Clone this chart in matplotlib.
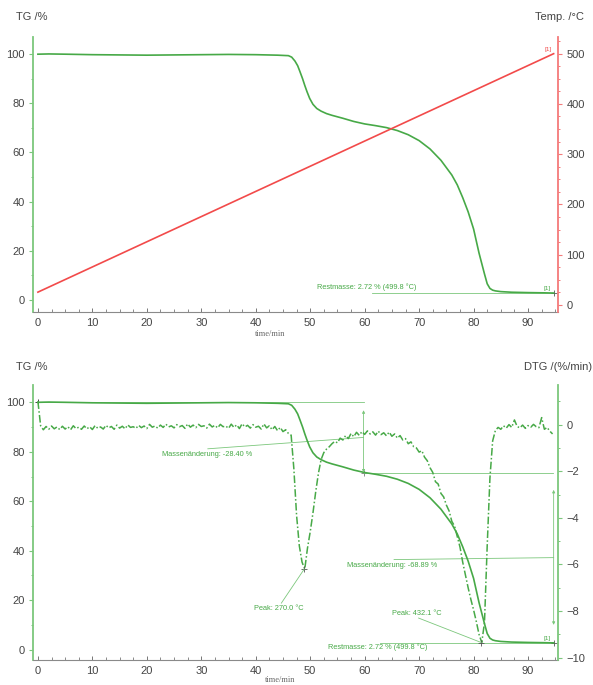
import numpy as np
import matplotlib
matplotlib.use("Agg")
import matplotlib.pyplot as plt
from matplotlib.ticker import MultipleLocator

plt.rcParams["font.family"] = ["Liberation Sans", "DejaVu Sans"]

# ── data ─────────────────────────────────────────────────────────────────────
tg_time = [0, 2, 5, 10, 15, 20, 25, 30, 35, 40, 44, 46, 46.6, 47.2, 47.7,
           48.1, 48.6, 49.0, 49.4, 49.9, 50.5, 51.2, 52, 53, 54, 56, 58, 60,
           62, 64, 66, 68, 70, 72, 74, 76, 77, 78, 79, 80, 81, 82, 82.5, 83,
           83.5, 84, 85, 87, 90, 93, 94.7]
tg_mass = [100.0, 100.1, 100.0, 99.8, 99.7, 99.6, 99.7, 99.8, 99.9, 99.8,
           99.6, 99.4, 98.8, 97.2, 95.3, 93.0, 90.0, 87.3, 84.8, 82.0, 79.6,
           77.9, 76.8, 75.8, 75.1, 73.9, 72.6, 71.6, 70.9, 70.1, 68.9, 67.2,
           64.8, 61.4, 56.8, 50.8, 46.8, 41.6, 35.8, 28.8, 19.0, 10.5, 6.5,
           4.6, 3.9, 3.6, 3.3, 3.05, 2.9, 2.8, 2.72]

temp_time = [0, 94.7]
temp_value = [25.5, 499.8]

dtg_time = np.arange(0, 95.0, 0.5)
dtg_value = [
    1.00, -0.05, -0.22, -0.08, -0.20, -0.06, -0.18, -0.10, -0.21, -0.07,
    -0.19, -0.09, -0.22, -0.05, -0.17, -0.11, -0.20, -0.06, -0.18, -0.09,
    -0.21, -0.04, -0.16, -0.10, -0.19, -0.03, -0.14, -0.08, -0.20, -0.02,
    -0.15, -0.07, -0.18, -0.01, -0.12, -0.09, -0.16, -0.03, -0.13, -0.06,
    -0.17, 0.01, -0.11, -0.06, -0.15, -0.02, -0.12, 0.02, -0.10, -0.05,
    -0.14, 0.00, -0.09, -0.04, -0.16, 0.03, -0.11, -0.02, -0.13, 0.01,
    -0.08, -0.05, -0.15, 0.02, -0.10, -0.03, -0.14, 0.01, -0.09, -0.06,
    -0.16, 0.02, -0.12, -0.01, -0.17, 0.04, -0.10, -0.03, -0.15, 0.00,
    -0.11, -0.07, -0.19, 0.03, -0.14, -0.05, -0.22, -0.08, -0.26, -0.12,
    -0.30, -0.22, -0.38, -0.45, -1.90, -3.90, -5.20, -5.90, -6.20, -5.30,
    -4.60, -3.80, -2.90, -2.10, -1.50, -1.20, -1.05, -0.95, -0.82, -0.72,
    -0.78, -0.58, -0.66, -0.47, -0.60, -0.38, -0.52, -0.33, -0.46, -0.30,
    -0.42, -0.27, -0.40, -0.31, -0.45, -0.28, -0.43, -0.35, -0.48, -0.32,
    -0.50, -0.40, -0.58, -0.47, -0.66, -0.60, -0.82, -0.74, -0.95, -1.00,
    -1.18, -1.12, -1.40, -1.55, -1.85, -2.05, -2.45, -2.55, -2.95, -3.10,
    -3.45, -3.70, -4.15, -4.35, -4.80, -5.25, -5.90, -6.45, -7.00, -7.50,
    -7.95, -8.45, -9.00, -9.35, -8.50, -5.20, -2.30, -0.70, -0.25, -0.12,
    -0.20, -0.05, -0.15, 0.00, -0.12, 0.20, -0.08, -0.14, -0.02, -0.16,
    -0.04, -0.11, 0.01, -0.09, -0.13, 0.30, -0.20, -0.12, -0.28, -0.40,
]

peak_time = [48.9, 81.4]
peak_dtg = [-6.2, -9.35]
step1_time, step1_from, step1_to = 59.8, 100.0, 71.6
residual_mass = 2.72

# ── styling ──────────────────────────────────────────────────────────────────
GREEN = "#47a947"
GREEN_L = "#7cc77c"
RED = "#f24a4a"
GREY = "#444444"
TICK_FS = 8
NOTE_FS = 5.3


def style_axis(ax, left_color):
    ax.set_xlim(-0.9, 95.5)
    ax.spines["top"].set_visible(False)
    ax.spines["left"].set_color(left_color)
    ax.spines["left"].set_linewidth(1.3)
    ax.spines["bottom"].set_color("#8a8a8a")
    ax.spines["right"].set_visible(False)
    ax.xaxis.set_major_locator(MultipleLocator(10))
    ax.xaxis.set_minor_locator(MultipleLocator(2.5))
    ax.tick_params(axis="x", direction="in", length=3, width=0.7,
                   color="#777777", labelsize=TICK_FS, labelcolor=GREY, pad=4)
    ax.tick_params(axis="x", which="minor", direction="in", length=2,
                   width=0.6, color="#777777")
    ax.tick_params(axis="y", direction="out", length=3, width=0.8,
                   color=left_color, labelsize=TICK_FS, labelcolor=GREY, pad=3)
    ax.tick_params(axis="y", which="minor", direction="out", length=1.5,
                   width=0.7, color=left_color)
    ax.set_facecolor("none")


def style_right(ax, color):
    for s in ["top", "left", "bottom"]:
        ax.spines[s].set_visible(False)
    ax.spines["right"].set_color(color)
    ax.spines["right"].set_linewidth(1.3)
    ax.tick_params(axis="y", direction="out", length=3, width=0.8, color=color,
                   labelsize=TICK_FS, labelcolor=GREY, pad=3)
    ax.tick_params(axis="y", which="minor", direction="out", length=1.5,
                   width=0.7, color=color)


fig = plt.figure(figsize=(5.93, 6.85), dpi=100)
W, H = 593, 685

# ── top panel: TG + temperature ──────────────────────────────────────────────
ax1 = fig.add_axes([33 / W, 1 - 312 / H, 525 / W, 275 / H])
style_axis(ax1, GREEN_L)
ax1.set_ylim(-5, 107)
ax1.yaxis.set_major_locator(MultipleLocator(20))
ax1.yaxis.set_minor_locator(MultipleLocator(10))
ax1.plot(tg_time, tg_mass, color=GREEN, lw=1.2, zorder=3)

ax1t = ax1.twinx()
style_right(ax1t, "#f47a7a")
ax1t.set_ylim(-14, 533)
ax1t.yaxis.set_major_locator(MultipleLocator(100))
ax1t.yaxis.set_minor_locator(MultipleLocator(25))
ax1t.plot(temp_time, temp_value, color=RED, lw=1.2)
ax1t.text(94.4, temp_value[-1] + 3, "[1]", color=RED, fontsize=4.5,
          ha="right", va="bottom")

ax1.plot([61.4, temp_time[-1]], [residual_mass, residual_mass], color=GREEN_L,
         lw=0.6)
ax1.plot(temp_time[-1], residual_mass, "+", color="#555555", ms=4, mew=0.6)
ax1.text(51.2, 5.3, "Restmasse: 2.72 % (499.8 °C)", color=GREEN,
         fontsize=NOTE_FS, va="center")
ax1.text(94.2, 3.4, "[1]", color=GREEN, fontsize=4.5, ha="right", va="bottom")

fig.text(16 / W, 1 - 17 / H, "TG /%", fontsize=8, color=GREY, va="center")
fig.text(584 / W, 1 - 17 / H, "Temp. /°C", fontsize=8, color=GREY,
         ha="right", va="center")
fig.text(270 / W, 1 - 334 / H, "time/min", fontsize=6, color="#666666",
         ha="center", va="center", family=["Liberation Serif", "DejaVu Serif"])

# ── bottom panel: TG + DTG ───────────────────────────────────────────────────
ax2 = fig.add_axes([33 / W, 1 - 660 / H, 525 / W, 275 / H])
style_axis(ax2, GREEN_L)
ax2.set_ylim(-4.2, 107)
ax2.yaxis.set_major_locator(MultipleLocator(20))
ax2.yaxis.set_minor_locator(MultipleLocator(10))
ax2.plot(tg_time, tg_mass, color=GREEN, lw=1.2, zorder=3)

ax2d = ax2.twinx()
style_right(ax2d, GREEN_L)
ax2d.set_ylim(-10.1, 1.7)
ax2d.yaxis.set_major_locator(MultipleLocator(2))
ax2d.yaxis.set_minor_locator(MultipleLocator(1))
ax2d.plot(dtg_time, dtg_value, color=GREEN, lw=1.1,
          linestyle=(0, (5, 1.5, 1, 1.5)))

line_kw = dict(color=GREEN_L, lw=0.6)
arrow_kw = dict(arrowstyle="<|-|>", color=GREEN_L, lw=0.6, shrinkA=0,
                shrinkB=0, mutation_scale=4)

# first mass step
ax2.plot([0, step1_time], [step1_from, step1_from], **line_kw)
ax2.plot(0, step1_from, "+", color="#444444", ms=5, mew=0.7)
ax2.annotate("", xy=(step1_time, step1_to), xytext=(step1_time, 96.8),
             arrowprops=arrow_kw)
ax2.plot(step1_time, step1_to, "+", color="#777777", ms=4, mew=0.6)
ax2.plot([step1_time, 94.5], [step1_to, step1_to], **line_kw)
ax2.plot([31.2, step1_time], [81.2, 85.8], **line_kw)
ax2.text(22.8, 78.8, "Massenänderung: -28.40 %", color=GREEN,
         fontsize=NOTE_FS, va="center")

# second mass step
ax2.annotate("", xy=(94.7, 10.0), xytext=(94.7, 64.6), arrowprops=arrow_kw)
ax2.plot([65.4, 94.7], [36.4, 37.2], **line_kw)
ax2.text(56.8, 34.0, "Massenänderung: -68.89 %", color=GREEN,
         fontsize=NOTE_FS, va="center")

# residual mass
ax2.plot([62.8, 94.7], [residual_mass, residual_mass], **line_kw)
ax2.plot(94.7, residual_mass, "+", color="#555555", ms=4, mew=0.6)
ax2.text(53.3, 1.0, "Restmasse: 2.72 % (499.8 °C)", color=GREEN,
         fontsize=NOTE_FS, va="center")
ax2.text(94.2, 3.6, "[1]", color=GREEN, fontsize=4.5, ha="right",
         va="bottom")

# peaks
ax2d.plot(peak_time, peak_dtg, "+", color="#555555", ms=4, mew=0.6)
ax2d.plot([44.7, peak_time[0]], [-7.66, peak_dtg[0]], **line_kw)
ax2d.text(39.7, -7.87, "Peak: 270.0 °C", color=GREEN, fontsize=NOTE_FS,
          va="center")
ax2d.plot([69.9, peak_time[1]], [-8.3, peak_dtg[1]], **line_kw)
ax2d.text(65.0, -8.09, "Peak: 432.1 °C", color=GREEN, fontsize=NOTE_FS,
          va="center")

fig.text(16 / W, 1 - 367 / H, "TG /%", fontsize=8, color=GREY, va="center")
fig.text(592 / W, 1 - 367 / H, "DTG /(%/min)", fontsize=8, color=GREY,
         ha="right", va="center")
fig.text(280 / W, 1 - 680 / H, "time/min", fontsize=6, color="#666666",
         ha="center", va="center", family=["Liberation Serif", "DejaVu Serif"])

fig.savefig("out.png", dpi=100)
